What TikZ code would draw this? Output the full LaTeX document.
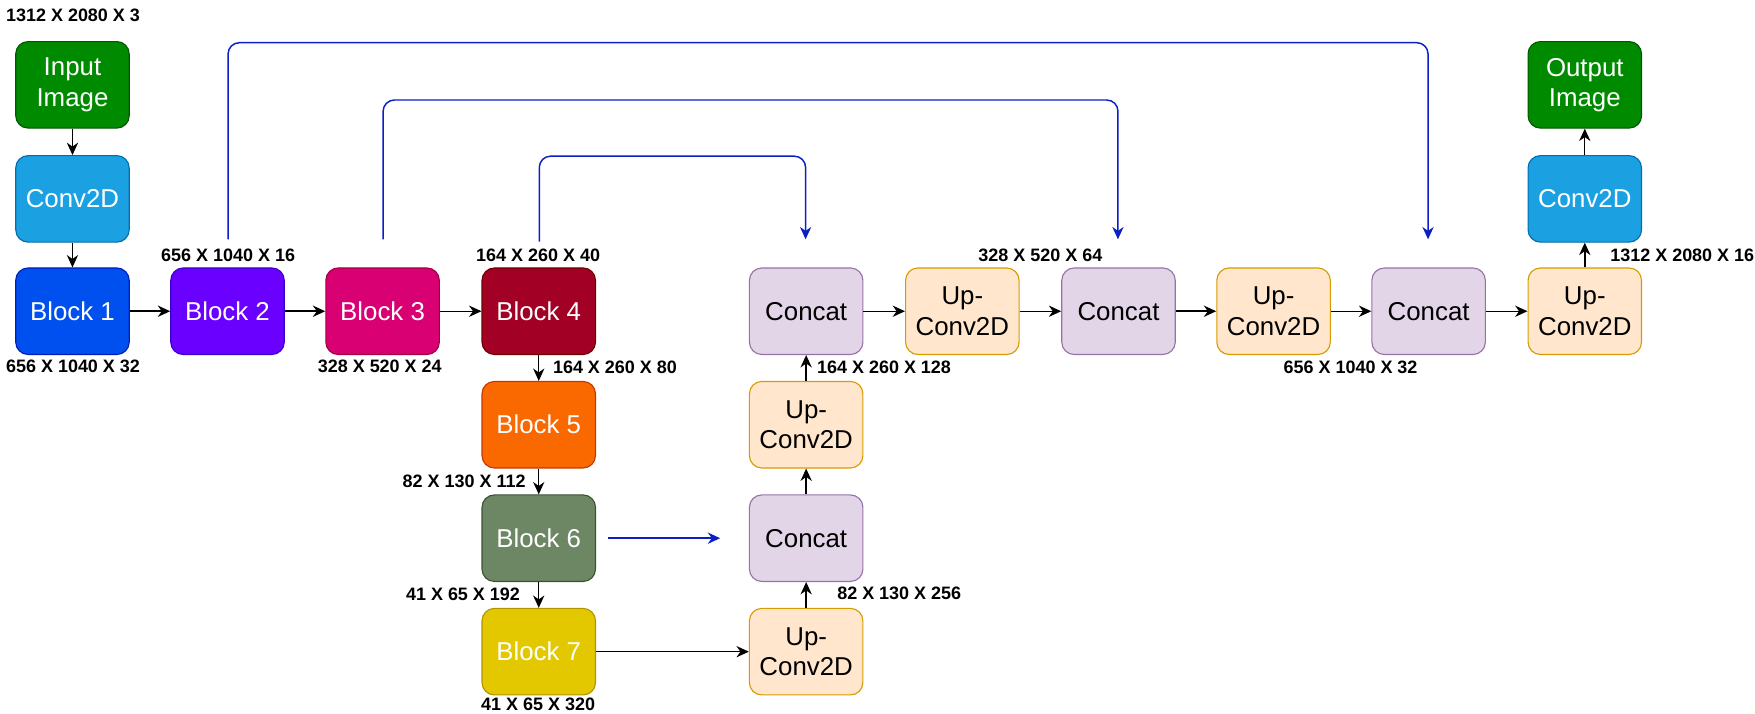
\documentclass[tikz,border=0pt]{standalone}
\usepackage{fontspec}
\setmainfont{Liberation Sans}
\usetikzlibrary{arrows.meta,positioning}
\definecolor{gfill}{HTML}{008A00}\definecolor{gline}{HTML}{005700}
\definecolor{cfill}{HTML}{1BA1E2}\definecolor{cline}{HTML}{006EAF}
\definecolor{b1fill}{HTML}{0050EF}\definecolor{b1line}{HTML}{001DBC}
\definecolor{b2fill}{HTML}{6A00FF}\definecolor{b2line}{HTML}{3700CC}
\definecolor{b3fill}{HTML}{D80073}\definecolor{b3line}{HTML}{A50040}
\definecolor{b4fill}{HTML}{A20025}\definecolor{b4line}{HTML}{6F0000}
\definecolor{b5fill}{HTML}{FA6800}\definecolor{b5line}{HTML}{C73500}
\definecolor{b6fill}{HTML}{6D8764}\definecolor{b6line}{HTML}{3A5431}
\definecolor{b7fill}{HTML}{E3C800}\definecolor{b7line}{HTML}{B09500}
\definecolor{ufill}{HTML}{FFE6CC}\definecolor{uline}{HTML}{D79B00}
\definecolor{kfill}{HTML}{E1D5E7}\definecolor{kline}{HTML}{9673A6}
\definecolor{skipc}{HTML}{0A1FC4}
\tikzset{
  box/.style={draw, line width=1pt, rounded corners=11pt, minimum width=101pt, minimum height=77pt,
    inner sep=0pt, align=center, font=\fontsize{23}{27}\selectfont},
  wbox/.style={box, text=white},
  upbox/.style={box, fill=ufill, draw=uline, text=black},
  catbox/.style={box, fill=kfill, draw=kline, text=black},
  dimlabel/.style={font=\bfseries\fontsize{16}{18}\selectfont, inner sep=0pt},
  arr/.style={-{Stealth[length=11pt,width=10pt,inset=3.5pt]}, line width=1.2pt, black},
  arrthick/.style={arr, line width=1.7pt},
  skip/.style={-{Stealth[length=11pt,width=10pt,inset=3.5pt]}, line width=1.3pt, draw=skipc, rounded corners=10pt},
}
\begin{document}
\begin{tikzpicture}[x=1pt,y=-1pt]
\useasboundingbox (0,0) rectangle (1562,635);
% encoder
\node[wbox, fill=gfill, draw=gline] (in) at (64.5,75.5) {Input\\Image};
\node[wbox, fill=cfill, draw=cline] (c1) at (64.5,177) {Conv2D};
\node[wbox, fill=b1fill, draw=b1line] (b1) at (64.5,277) {Block 1};
\node[wbox, fill=b2fill, draw=b2line] (b2) at (202.5,277) {Block 2};
\node[wbox, fill=b3fill, draw=b3line] (b3) at (340.5,277) {Block 3};
\node[wbox, fill=b4fill, draw=b4line] (b4) at (479.5,277) {Block 4};
\node[wbox, fill=b5fill, draw=b5line] (b5) at (479.5,378) {Block 5};
\node[wbox, fill=b6fill, draw=b6line] (b6) at (479.5,479) {Block 6};
\node[wbox, fill=b7fill, draw=b7line] (b7) at (479.5,580) {Block 7};
% decoder
\node[upbox] (u1) at (717.5,580) {Up-\\Conv2D};
\node[catbox] (k1) at (717.5,479) {Concat};
\node[upbox] (u2) at (717.5,378) {Up-\\Conv2D};
\node[catbox] (k2) at (717.5,277) {Concat};
\node[upbox] (u3) at (856.5,277) {Up-\\Conv2D};
\node[catbox] (k3) at (995.5,277) {Concat};
\node[upbox] (u4) at (1133.5,277) {Up-\\Conv2D};
\node[catbox] (k4) at (1271.5,277) {Concat};
\node[upbox] (u5) at (1410.5,277) {Up-\\Conv2D};
\node[wbox, fill=cfill, draw=cline] (c2) at (1410.5,177) {Conv2D};
\node[wbox, fill=gfill, draw=gline] (out) at (1410.5,75.5) {Output\\Image};
% black connectors
\draw[arr] (in) -- (c1);
\draw[arr] (c1) -- (b1);
\draw[arrthick] (b1) -- (b2);
\draw[arrthick] (b2) -- (b3);
\draw[arr] (b3) -- (b4);
\draw[arr] (b4) -- (b5);
\draw[arr] (b5) -- (b6);
\draw[arr] (b6) -- (b7);
\draw[arr] (b7) -- (u1);
\draw[arr] (u1) -- (k1);
\draw[arr] (k1) -- (u2);
\draw[arr] (u2) -- (k2);
\draw[arr] (k2) -- (u3);
\draw[arr] (u3) -- (k3);
\draw[arrthick] (k3) -- (u4);
\draw[arr] (u4) -- (k4);
\draw[arr] (k4) -- (u5);
\draw[arrthick] (u5) -- (c2);
\draw[arr] (c2) -- (out);
% skip connections
\coordinate (s2) at (203,213); \coordinate (e2) at (1271,213);
\coordinate (s3) at (341,213); \coordinate (e3) at (995,213);
\coordinate (s4) at (480,215); \coordinate (e4) at (717,213);
\coordinate (s6) at (541,479); \coordinate (e6) at (641,479);
\draw[skip] (s2) -- ++(0,-175) -| (e2);
\draw[skip] (s3) -- ++(0,-124) -| (e3);
\draw[skip] (s4) -- ++(0,-76) -| (e4);
\draw[skip] (s6) -- (e6);
% dimension labels
\node[dimlabel] at (65,14) {1312 X 2080 X 3};
\node[dimlabel] at (65,326) {656 X 1040 X 32};
\node[dimlabel] at (203,227) {656 X 1040 X 16};
\node[dimlabel] at (338,326) {328 X 520 X 24};
\node[dimlabel] at (479,227) {164 X 260 X 40};
\node[dimlabel, anchor=west] at (492,327) {164 X 260 X 80};
\node[dimlabel, anchor=east] at (468,428) {82 X 130 X 112};
\node[dimlabel, anchor=east] at (463,529) {41 X 65 X 192};
\node[dimlabel] at (479,627) {41 X 65 X 320};
\node[dimlabel, anchor=west] at (745,528) {82 X 130 X 256};
\node[dimlabel, anchor=west] at (727,327) {164 X 260 X 128};
\node[dimlabel] at (926,227) {328 X 520 X 64};
\node[dimlabel] at (1202,327) {656 X 1040 X 32};
\node[dimlabel, anchor=west] at (1433,227) {1312 X 2080 X 16};
\end{tikzpicture}
\end{document}
